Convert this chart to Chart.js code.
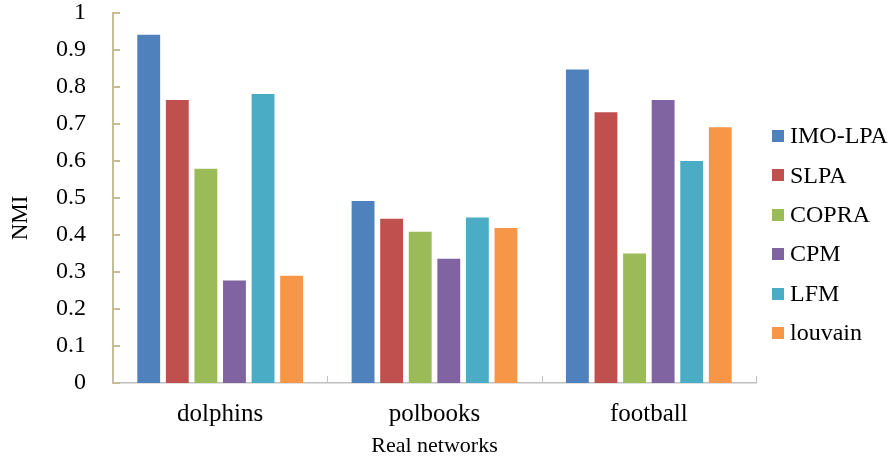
<!DOCTYPE html>
<html>
<head>
<meta charset="utf-8">
<script src="https://cdn.jsdelivr.net/npm/chart.js@4/dist/chart.umd.min.js"></script>
<style>
  html, body { margin: 0; padding: 0; background: #fff; }
  #wrap { width: 896px; height: 466px; }
</style>
</head>
<body>
<div id="wrap"><canvas id="c" width="896" height="466"></canvas></div>
<script>
// Data
const networks = ['dolphins', 'polbooks', 'football'];
const methods = ['IMO-LPA', 'SLPA', 'COPRA', 'CPM', 'LFM', 'louvain'];
const imoLpa  = [0.941, 0.492, 0.847];
const slpa    = [0.765, 0.444, 0.732];
const copra   = [0.579, 0.409, 0.350];
const cpm     = [0.277, 0.336, 0.765];
const lfm     = [0.781, 0.447, 0.600];
const louvain = [0.290, 0.419, 0.691];
const yTicks  = [0, 0.1, 0.2, 0.3, 0.4, 0.5, 0.6, 0.7, 0.8, 0.9, 1];

const colors = ['#4F81BD', '#C0504D', '#9BBB59', '#8064A2', '#4BACC6', '#F79646'];
const series = [imoLpa, slpa, copra, cpm, lfm, louvain];
const FONT = "'Liberation Serif', 'Times New Roman', serif";

// inward tick marks, y title and legend on the right
const extras = {
    id: 'extras',
    afterDraw(chart) {
        const ctx = chart.ctx;
        const y = chart.scales.y;
        const area = chart.chartArea;
        ctx.save();
        ctx.strokeStyle = '#C4BD97';
        ctx.lineWidth = 2;
        yTicks.forEach(v => {
            const py = Math.round(y.getPixelForValue(v));
            ctx.beginPath();
            ctx.moveTo(area.left, py);
            ctx.lineTo(area.left + 7, py);
            ctx.stroke();
        });
        ctx.strokeStyle = '#BFBFBF';
        ctx.lineWidth = 1;
        for (let i = 0; i <= networks.length; i++) {
            const px = Math.round(area.left + (area.right - area.left) * i / networks.length) + 0.5;
            ctx.beginPath();
            ctx.moveTo(px, area.bottom);
            ctx.lineTo(px, area.bottom - 7);
            ctx.stroke();
        }
        // y axis title
        ctx.fillStyle = '#000';
        ctx.font = '23px ' + FONT;
        ctx.textAlign = 'center';
        ctx.textBaseline = 'middle';
        ctx.translate(21, 218);
        ctx.rotate(-Math.PI / 2);
        ctx.fillText('NMI', 0, 0);
        ctx.setTransform(1, 0, 0, 1, 0, 0);
        // legend
        ctx.font = '24px ' + FONT;
        ctx.textAlign = 'left';
        chart.data.datasets.forEach((ds, i) => {
            const cy = 136 + i * 39.4;
            ctx.fillStyle = ds.backgroundColor;
            ctx.fillRect(772, Math.round(cy - 6), 12, 12);
            ctx.fillStyle = '#000';
            ctx.fillText(ds.label, 790, cy + 1);
        });
        ctx.restore();
    }
};

new Chart(document.getElementById('c'), {
    type: 'bar',
    data: {
        labels: networks,
        datasets: methods.map((m, i) => ({
            label: m,
            data: series[i],
            backgroundColor: colors[i],
            borderWidth: 0,
            categoryPercentage: 0.8,
            barPercentage: 0.8
        }))
    },
    options: {
        responsive: false,
        animation: false,
        layout: { padding: { left: 0, right: 140, top: 13, bottom: 3 } },
        plugins: {
            legend: { display: false },
            tooltip: { enabled: false }
        },
        scales: {
            x: {
                grid: { display: false },
                border: { color: '#BFBFBF', width: 1.5 },
                ticks: { color: '#000', font: { family: FONT, size: 25 }, padding: 8 },
                title: { display: true, text: 'Real networks', color: '#000', font: { family: FONT, size: 22 }, padding: { top: 0 } },
                afterFit(s) { s.height = 80; s.paddingLeft = 0; s.paddingRight = 0; }
            },
            y: {
                min: 0,
                max: 1,
                afterBuildTicks(s) { s.ticks = yTicks.map(v => ({ value: v })); },
                grid: { display: false },
                border: { color: '#C4BD97', width: 2 },
                ticks: {
                    color: '#000',
                    font: { family: FONT, size: 24 },
                    padding: 19,
                    callback: v => String(Number(v.toFixed(1)))
                },
                afterFit(s) { s.width = 113; s.paddingTop = 0; s.paddingBottom = 0; }
            }
        }
    },
    plugins: [extras]
});
</script>
</body>
</html>
